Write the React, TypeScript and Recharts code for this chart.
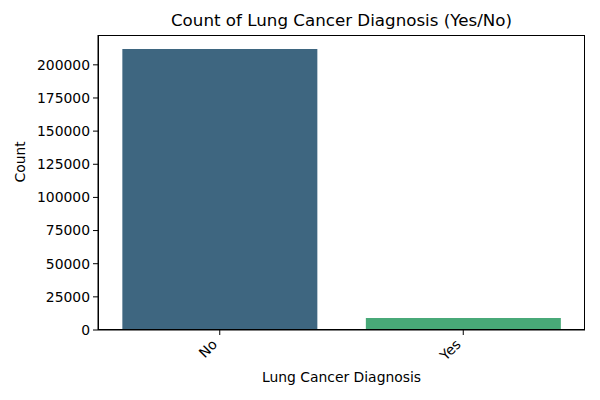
import React from 'react';
import { BarChart, Bar, XAxis, YAxis, Cell } from 'recharts';

const categories = ['No', 'Yes'];
const counts = [211900, 9050];
const colors = ['#3e6680', '#48a978'];
const yTicks = [0, 25000, 50000, 75000, 100000, 125000, 150000, 175000, 200000];

const data = categories.map((c, i) => ({ name: c, count: counts[i] }));

const FONT = 'DejaVu Sans, sans-serif';
const FS = 13.9;

const RotTick = (props: any) => {
  const { x, y, payload } = props;
  return (
    <g transform={`translate(${x - 9},${y + 1})`}>
      <text
        transform="rotate(-45)"
        textAnchor="end"
        dominantBaseline="hanging"
        fontSize={FS}
        fontFamily={FONT}
        fill="#000"
        x={0}
        y={0}
      >
        {payload.value}
      </text>
    </g>
  );
};

export default function App() {
  return (
    <div style={{ position: 'absolute', left: 0, top: 0, width: 600, height: 400, background: '#fff' }}>
      <div
        style={{
          position: 'absolute',
          left: 98,
          width: 487,
          top: 10,
          textAlign: 'center',
          fontFamily: FONT,
          fontSize: 16.7,
          color: '#000',
        }}
      >
        Count of Lung Cancer Diagnosis (Yes/No)
      </div>
      <BarChart
        width={600}
        height={400}
        data={data}
        margin={{ top: 35, right: 15, bottom: 0, left: 0 }}
        barCategoryGap="10%"
      >
        <XAxis
          dataKey="name"
          tick={<RotTick />}
          tickSize={5}
          tickLine={{ stroke: '#000' }}
          axisLine={{ stroke: '#000' }}
          height={70}
          interval={0}
          label={{ value: 'Lung Cancer Diagnosis', position: 'insideBottom', offset: 18, fontSize: FS, fontFamily: FONT, fill: '#000' }}
        />
        <YAxis
          domain={[0, 222500]}
          ticks={yTicks}
          width={98}
          tickSize={5}
          tickLine={{ stroke: '#000' }}
          axisLine={{ stroke: '#000' }}
          tick={{ fontSize: FS, fontFamily: FONT, fill: '#000' }}
          tickMargin={3}
          interval={0}
          allowDataOverflow
          label={{ value: 'Count', angle: -90, position: 'insideLeft', offset: 20, fontSize: FS, fontFamily: FONT, fill: '#000' }}
        />
        <Bar dataKey="count" isAnimationActive={false}>
          {data.map((d, i) => (
            <Cell key={d.name} fill={colors[i]} />
          ))}
        </Bar>
      </BarChart>
      <div
        style={{
          position: 'absolute',
          left: 98,
          top: 34.5,
          width: 487,
          height: 295.5,
          border: '1px solid #000',
          boxSizing: 'border-box',
          pointerEvents: 'none',
        }}
      />
    </div>
  );
}
